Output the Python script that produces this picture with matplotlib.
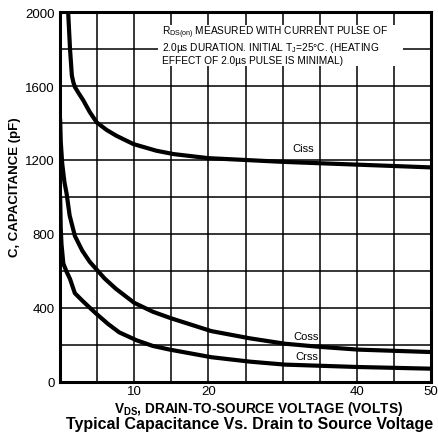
import matplotlib
matplotlib.use("Agg")
import matplotlib.pyplot as plt
from matplotlib.patches import Rectangle

plt.rcParams['font.family'] = ['Liberation Sans', 'DejaVu Sans']
plt.rcParams['mathtext.fontset'] = 'custom'
plt.rcParams['mathtext.rm'] = 'Liberation Sans'
plt.rcParams['mathtext.it'] = 'Liberation Sans:italic'
plt.rcParams['mathtext.bf'] = 'Liberation Sans:bold'

# ---- data ----
ciss_v = [1.1, 1.35, 1.6, 1.8, 2.0, 2.5, 3.1, 4.0, 4.95, 6.3, 7.6, 9.9, 13, 15.3, 20, 25, 30, 40, 50]
ciss_c = [2000, 1800, 1656, 1620, 1595, 1562, 1525, 1460, 1403, 1362, 1331, 1286, 1250, 1232, 1210, 1200, 1190, 1175, 1160]

coss_v = [0.02, 0.1, 0.3, 0.6, 0.9, 1.3, 2.0, 3.0, 4.0, 5.0, 6.0, 7.5, 10, 12.5, 15, 20.4, 25.6, 30.3, 35, 40.2, 50]
coss_c = [1420, 1300, 1180, 1080, 1016, 900, 790, 710, 650, 605, 560, 505, 428, 380, 344, 275, 236, 207, 190, 175, 162]

crss_v = [0.02, 0.1, 0.2, 0.45, 0.9, 1.35, 2.0, 3.0, 4.0, 5.0, 6.5, 8, 10.35, 12.5, 14.8, 20.4, 25.6, 30.3, 40.2, 50]
crss_c = [1000, 830, 746, 640, 595, 557, 480, 440, 402, 365, 313, 268, 225, 195, 175, 134, 110, 94, 81, 72]

x_ticks = [10, 20, 40, 50]
x_tick_labels = ["10", "20", "40", "50"]
y_ticks = [0, 400, 800, 1200, 1600, 2000]
y_tick_labels = ["0", "400", "800", "1200", "1600", "2000"]

curve_labels = ["Ciss", "Coss", "Crss"]
curve_label_pos = [(32.8, 1267), (33.2, 249), (33.2, 141)]

note_lines = ["R$_\\mathrm{DS(on)}$ MEASURED WITH CURRENT PULSE OF",
              "2.0\u00b5s DURATION. INITIAL T$_\\mathrm{J}$=25\u00b0C. (HEATING",
              "EFFECT OF 2.0\u00b5s PULSE IS MINIMAL)"]
note_y = [1892, 1812, 1738]

# ---- figure ----
fig = plt.figure(figsize=(4.38, 4.35), dpi=100)
ax = fig.add_axes([60/438, 1 - 383/435, (431 - 60)/438, (383 - 13)/435])

ax.set_xlim(0, 50)
ax.set_ylim(0, 2000)

# grid
for gx in range(5, 50, 5):
    ax.axvline(gx, color='black', lw=1.1, zorder=1)
for gy in range(200, 2000, 200):
    ax.axhline(gy, color='black', lw=1.1, zorder=1)

# white area behind the note
ax.add_patch(Rectangle((13.2, 1708), 46.2 - 13.2, 1930 - 1708,
                       facecolor='white', edgecolor='none', zorder=2))

for v, c in [(ciss_v, ciss_c), (coss_v, coss_c), (crss_v, crss_c)]:
    ax.plot(v, c, color='black', lw=3.0, solid_joinstyle='round',
            solid_capstyle='round', zorder=4)

for lab, (px, py) in zip(curve_labels, curve_label_pos):
    ax.text(px, py, lab, fontsize=8, ha='center', va='center', zorder=5)

for line, ly in zip(note_lines, note_y):
    ax.text(13.8, ly, line, fontsize=7.3, ha='left', va='center', zorder=3)

for s in ax.spines.values():
    s.set_linewidth(2.2)
    s.set_zorder(6)

ax.set_xticks(x_ticks)
ax.set_xticklabels(x_tick_labels)
ax.set_yticks(y_ticks)
ax.set_yticklabels(y_tick_labels)
ax.tick_params(axis='both', length=0, labelsize=9.5)
ax.tick_params(axis='x', pad=2)
ax.tick_params(axis='y', pad=4)

fig.text(259/438, 1 - 409/435, "V$_\\mathbf{DS}$, DRAIN-TO-SOURCE VOLTAGE (VOLTS)",
         fontsize=9.8, fontweight='bold', ha='center', va='center')
fig.text(15/438, 1 - 187/435, "C, CAPACITANCE (pF)", fontsize=9.5,
         fontweight='bold', ha='center', va='center', rotation=90)
fig.text(250/438, 1 - 425/435, "Typical Capacitance Vs. Drain to Source Voltage",
         fontsize=11.5, fontweight='bold', ha='center', va='center')

fig.savefig("out.png", dpi=100)
